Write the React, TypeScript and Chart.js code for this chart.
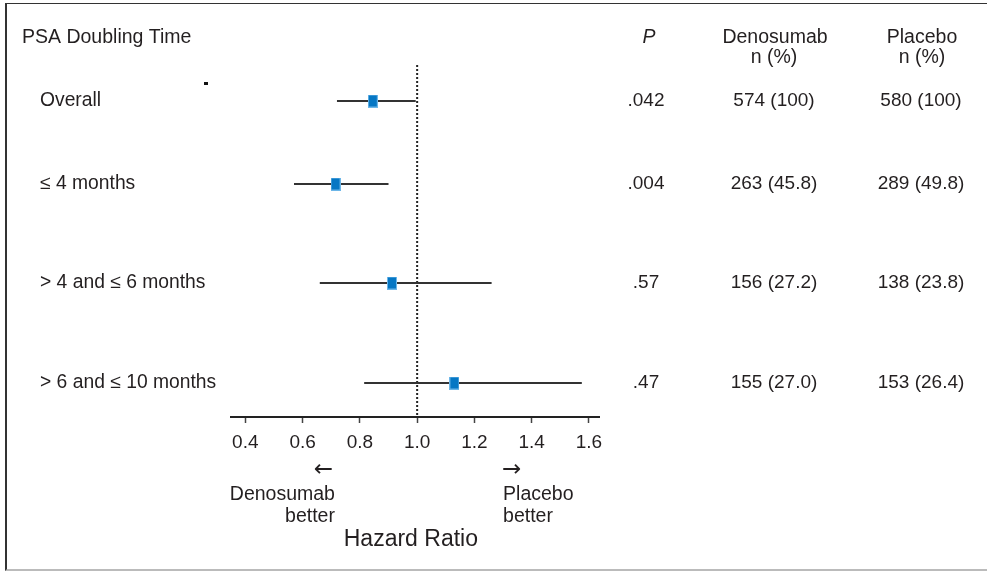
import React, { useEffect, useRef } from "react";
import { Chart, registerables } from "chart.js";

Chart.register(...registerables);

// ---- data ----
const subgroups = ["Overall", "≤ 4 months", "> 4 and ≤ 6 months", "> 6 and ≤ 10 months"];
const rowY = [1, 1.83, 2.82, 3.82];
const hazardRatio = [0.845, 0.715, 0.912, 1.13];
const ciLow = [0.72, 0.57, 0.66, 0.815];
const ciHigh = [0.995, 0.9, 1.26, 1.575];
const pValues = [".042", ".004", ".57", ".47"];
const denosumabN = ["574 (100)", "263 (45.8)", "156 (27.2)", "155 (27.0)"];
const placeboN = ["580 (100)", "289 (49.8)", "138 (23.8)", "153 (26.4)"];
const tickValues = [0.4, 0.6, 0.8, 1.0, 1.2, 1.4, 1.6];

const FONT = "'Liberation Sans', Arial, sans-serif";
const TEXT = "#231f20";

function makeBox(): HTMLCanvasElement {
  const c = document.createElement("canvas");
  c.width = 10;
  c.height = 13;
  const g = c.getContext("2d")!;
  g.fillStyle = "#6cb6e8";
  g.fillRect(0, 0, 10, 13);
  g.fillStyle = "#0677c4";
  g.fillRect(1, 1, 8, 11);
  return c;
}

const textPlugin = {
  id: "forestText",
  afterDraw(chart: any) {
    const ctx = chart.ctx;
    const xs = chart.scales.x;
    const ys = chart.scales.y;
    const axisY = chart.chartArea.bottom;
    ctx.save();
    ctx.fillStyle = TEXT;
    ctx.textBaseline = "middle";
    ctx.font = `19.5px ${FONT}`;
    // headers
    ctx.textAlign = "left";
    ctx.fillText("PSA Doubling Time", 22, 38);
    ctx.textAlign = "center";
    ctx.font = `italic 19.5px ${FONT}`;
    ctx.fillText("P", 649, 38);
    ctx.font = `19.5px ${FONT}`;
    ctx.fillText("Denosumab", 775, 38);
    ctx.fillText("n (%)", 774, 58);
    ctx.fillText("Placebo", 922, 38);
    ctx.fillText("n (%)", 922, 58);
    // rows
    subgroups.forEach((s, i) => {
      const y = ys.getPixelForValue(rowY[i]);
      ctx.font = `19.3px ${FONT}`;
      ctx.textAlign = "left";
      ctx.fillText(s, 40, y);
      ctx.font = `19px ${FONT}`;
      ctx.textAlign = "center";
      ctx.fillText(pValues[i], 646, y);
      ctx.fillText(denosumabN[i], 774, y);
      ctx.fillText(placeboN[i], 921, y);
    });
    // bottom annotations
    const leftX = xs.getPixelForValue(0.713);
    const rightX = xs.getPixelForValue(1.3);
    ctx.font = `23px 'DejaVu Sans', sans-serif`;
    ctx.textAlign = "right";
    ctx.fillText("←", leftX - 2, axisY + 53);
    ctx.textAlign = "left";
    ctx.fillText("→", rightX - 1, axisY + 53);
    ctx.font = `19.5px ${FONT}`;
    ctx.textAlign = "right";
    ctx.fillText("Denosumab", leftX, axisY + 78);
    ctx.fillText("better", leftX, axisY + 100);
    ctx.textAlign = "left";
    ctx.fillText("Placebo", rightX, axisY + 78);
    ctx.fillText("better", rightX, axisY + 100);
    ctx.textAlign = "center";
    ctx.font = `23px ${FONT}`;
    ctx.fillText("Hazard Ratio", xs.getPixelForValue(0.978), axisY + 123);
    ctx.restore();
  },
};

export default function App() {
  const ref = useRef<HTMLCanvasElement | null>(null);
  useEffect(() => {
    if (!ref.current) return;
    const box = makeBox();
    const ciSets = subgroups.map((s, i) => ({
      type: "line" as const,
      label: s + " CI",
      data: [
        { x: ciLow[i], y: rowY[i] },
        { x: ciHigh[i], y: rowY[i] },
      ],
      borderColor: "#333",
      borderWidth: 2.2,
      pointRadius: 0,
      order: 2,
    }));
    const chart = new Chart(ref.current, {
      type: "scatter",
      data: {
        datasets: [
          {
            type: "scatter",
            label: "Hazard ratio",
            data: hazardRatio.map((v, i) => ({ x: v, y: rowY[i] })),
            pointStyle: box as any,
            pointRadius: 6,
            order: 0,
          },
          ...ciSets,
          {
            type: "line",
            label: "Reference",
            data: [
              { x: 1, y: 0.64 },
              { x: 1, y: 4.16 },
            ],
            borderColor: "#222",
            borderWidth: 2,
            borderDash: [2, 2],
            pointRadius: 0,
            order: 3,
          },
        ] as any,
      },
      options: {
        animation: false,
        responsive: false,
        events: [],
        layout: { padding: { left: 231, right: 388, top: 65, bottom: 114 } },
        plugins: { legend: { display: false }, tooltip: { enabled: false } },
        scales: {
          x: {
            type: "linear",
            min: 0.35,
            max: 1.635,
            afterBuildTicks: (scale: any) => {
              scale.ticks = tickValues.map((v) => ({ value: v }));
            },
            afterFit: (scale: any) => {
              scale.height = 40;
            },
            border: { display: true, color: "#222", width: 2 },
            grid: {
              drawOnChartArea: false,
              drawTicks: true,
              tickLength: 6,
              tickWidth: 1.5,
              tickColor: "#444",
            },
            ticks: {
              color: TEXT,
              font: { family: FONT, size: 19 },
              padding: 8,
              maxRotation: 0,
              autoSkip: false,
              callback: (v: any) => Number(v).toFixed(1),
            },
          },
          y: {
            type: "linear",
            reverse: true,
            min: 0.64,
            max: 4.16,
            display: false,
          },
        },
      },
      plugins: [textPlugin],
    });
    return () => chart.destroy();
  }, []);

  return (
    <div style={{ position: "fixed", left: 0, top: 0, width: 987, height: 571, background: "#fff" }}>
      <canvas ref={ref} width={987} height={571} style={{ position: "absolute", left: 0, top: 0 }} />
      <div
        style={{
          position: "absolute",
          left: 5,
          top: 3,
          width: 982,
          height: 565,
          borderLeft: "2px solid #333",
          borderTop: "1.5px solid #333",
          borderBottom: "2px solid #bbb",
          pointerEvents: "none",
        }}
      />
      <div style={{ position: "absolute", left: 204, top: 82, width: 4, height: 3, background: "#111" }} />
    </div>
  );
}
